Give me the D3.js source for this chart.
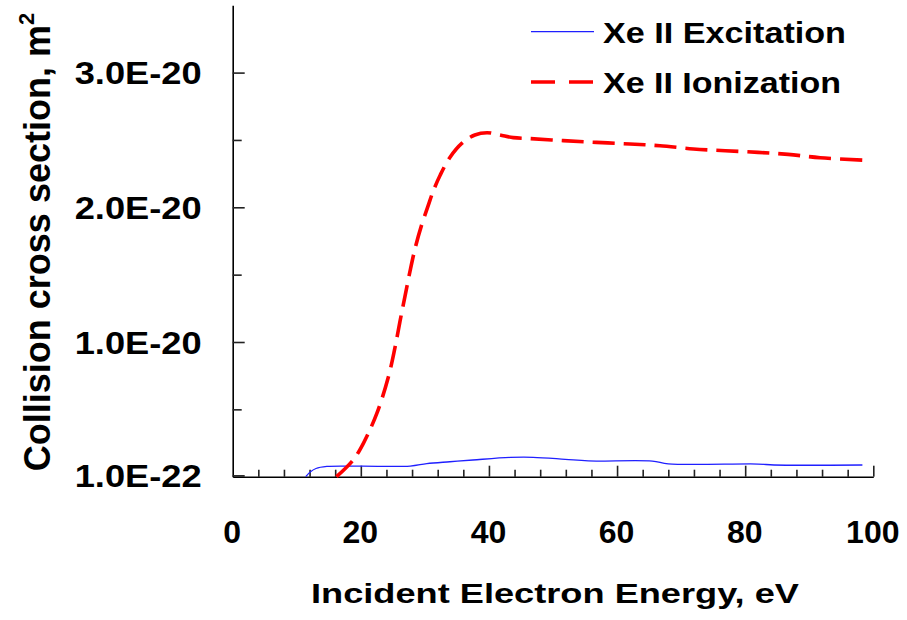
<!DOCTYPE html>
<html>
<head>
<meta charset="utf-8">
<script src="https://cdn.jsdelivr.net/npm/d3@7"></script>
<style>
  html, body { margin: 0; padding: 0; background: #fff; }
  svg { display: block; }
  text { font-family: "Liberation Sans", Arial, sans-serif; font-weight: bold; fill: #000; }
</style>
</head>
<body>
<svg id="chart" width="907" height="620"></svg>
<script>
// Xe II electron-impact cross sections (m^2) versus incident energy (eV)
const excitationEnergy = [11.4, 12.1, 13.0, 14.7, 20.0, 27.7, 30.3, 33.9, 37.5, 43.3, 46.9, 51.9, 55.5, 65.5, 68.0, 82.0, 84.5, 98.3];
const excitationValue  = [0, 0.35e-21, 0.61e-21, 0.76e-21, 0.78e-21, 0.79e-21, 0.97e-21, 1.11e-21, 1.24e-21, 1.43e-21, 1.44e-21, 1.29e-21, 1.17e-21, 1.16e-21, 0.95e-21, 0.94e-21, 0.87e-21, 0.87e-21];

const ionizationEnergy = [16.2, 18.8, 20.4, 22.5, 24.3, 25.3, 26.1, 26.9, 27.7, 28.5, 29.5, 30.5, 31.3, 32.4, 33.9, 35.8, 37.8, 39.7, 41.7, 43.8, 46.4, 51.6, 56.8, 62.0, 66.7, 71.9, 76.9, 82.0, 86.7, 91.7, 98.3];
const ionizationValue  = [0, 0.124e-20, 0.248e-20, 0.47e-20, 0.74e-20, 0.95e-20, 1.15e-20, 1.34e-20, 1.53e-20, 1.7e-20, 1.87e-20, 2.01e-20, 2.12e-20, 2.24e-20, 2.37e-20, 2.476e-20, 2.537e-20, 2.554e-20, 2.537e-20, 2.517e-20, 2.51e-20, 2.495e-20, 2.482e-20, 2.47e-20, 2.457e-20, 2.433e-20, 2.42e-20, 2.408e-20, 2.393e-20, 2.368e-20, 2.35e-20];

const seriesNames = ["Xe II Excitation", "Xe II Ionization"];

const xMajorTicks = [0, 20, 40, 60, 80, 100];
const xMinorTicks = d3.range(0, 101, 4);
const yMajorTicks = [1e-22, 1e-20, 2e-20, 3e-20];
const yMajorLabels = ["1.0E-22", "1.0E-20", "2.0E-20", "3.0E-20"];
const yMinorTicks = [0.5e-20, 1.5e-20, 2.5e-20];

const xTitle = "Incident Electron Energy, eV";
const yTitle = "Collision cross section, m";

const svg = d3.select("#chart");

const x = d3.scaleLinear().domain([0, 100]).range([232.7, 873.3]);
const y = d3.scaleLinear().domain([0, 3.5e-20]).range([476.7, 5.25]);

// y axis: ticks point inward, labels in exponent notation
const yAxisG = svg.append("g").attr("transform", `translate(${x(0)},0)`)
  .call(d3.axisLeft(y).tickValues(yMajorTicks).tickSizeInner(-12).tickSizeOuter(0)
    .tickPadding(31).tickFormat((d, i) => yMajorLabels[i]));
yAxisG.selectAll("text").attr("font-size", 31).attr("dy", "0.36em")
  .attr("textLength", 127).attr("lengthAdjust", "spacingAndGlyphs");

svg.append("g").attr("transform", `translate(${x(0)},0)`)
  .call(d3.axisLeft(y).tickValues(yMinorTicks).tickSizeInner(-9).tickSizeOuter(0).tickFormat(""))
  .select(".domain").remove();

// x axis: minor ticks every 4 eV, major every 20 eV
svg.append("g").attr("transform", `translate(0,${y(0)})`)
  .call(d3.axisBottom(x).tickValues(xMinorTicks.filter(d => d % 20 !== 0)).tickSizeInner(-7).tickSizeOuter(0).tickFormat(""))
  .select(".domain").remove();

const xAxisG = svg.append("g").attr("transform", `translate(0,${y(0)})`)
  .call(d3.axisBottom(x).tickValues(xMajorTicks).tickSizeInner(-11).tickSizeOuter(0)
    .tickPadding(44).tickFormat(d3.format("d")));
xAxisG.selectAll("text").attr("font-size", 32).attr("dx", "-1");

svg.selectAll(".domain").attr("stroke", "#000").attr("stroke-width", 1.6);
svg.selectAll(".tick line").attr("stroke", "#222").attr("stroke-width", 1.6);
svg.selectAll(".tick").filter(d => d === 0).select("line").remove();

// curves
const line = d3.line().x(d => x(d[0])).y(d => y(d[1])).curve(d3.curveCatmullRom.alpha(0.5));
const excitation = excitationEnergy.map((e, i) => [e, excitationValue[i]]);
const ionization = ionizationEnergy.map((e, i) => [e, ionizationValue[i]]);

svg.append("path").datum(excitation).attr("d", line)
  .attr("fill", "none").attr("stroke", "#1f1fff").attr("stroke-width", 1.3);

svg.append("path").datum(ionization).attr("d", line)
  .attr("fill", "none").attr("stroke", "#ff0000").attr("stroke-width", 3.6)
  .attr("stroke-dasharray", "22,9");

// legend
const legend = svg.append("g");
legend.append("line").attr("x1", 531).attr("x2", 594).attr("y1", 31.7).attr("y2", 31.7)
  .attr("stroke", "#1f1fff").attr("stroke-width", 1.3);
legend.append("line").attr("x1", 531).attr("x2", 593).attr("y1", 82).attr("y2", 82)
  .attr("stroke", "#ff0000").attr("stroke-width", 3.6).attr("stroke-dasharray", "24,14");
legend.append("text").attr("x", 603).attr("y", 42.7).attr("font-size", 29)
  .attr("textLength", 243).attr("lengthAdjust", "spacingAndGlyphs").text(seriesNames[0]);
legend.append("text").attr("x", 603).attr("y", 93.3).attr("font-size", 29)
  .attr("textLength", 238).attr("lengthAdjust", "spacingAndGlyphs").text(seriesNames[1]);

// axis titles
svg.append("text").attr("x", 555).attr("y", 603.3).attr("text-anchor", "middle")
  .attr("font-size", 28).attr("textLength", 488).attr("lengthAdjust", "spacingAndGlyphs")
  .text(xTitle);

const yt = svg.append("text").attr("transform", "translate(50,242) rotate(-90)")
  .attr("text-anchor", "middle").attr("font-size", 36);
yt.append("tspan").text(yTitle);
yt.append("tspan").attr("font-size", 22).attr("dy", "-0.75em").text("2");
</script>
</body>
</html>
